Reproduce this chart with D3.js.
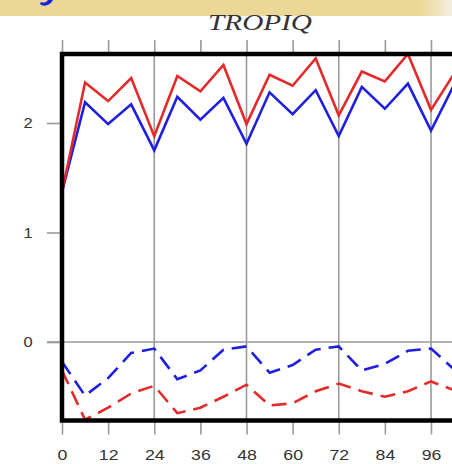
<!DOCTYPE html>
<html>
<head>
<meta charset="utf-8">
<script src="https://cdn.jsdelivr.net/npm/d3@7"></script>
<style>
  html, body { margin: 0; padding: 0; background: #fff; }
  svg { display: block; }
</style>
</head>
<body>
<div id="chart"></div>
<script>
// ---- data ----
const hours = [0, 6, 12, 18, 24, 30, 36, 42, 48, 54, 60, 66, 72, 78, 84, 90, 96, 102];
const redSolid  = [1.37, 2.37, 2.20, 2.41, 1.88, 2.43, 2.29, 2.53, 1.99, 2.44, 2.34, 2.59, 2.07, 2.47, 2.38, 2.63, 2.12, 2.45];
const blueSolid = [1.37, 2.19, 1.99, 2.17, 1.75, 2.24, 2.03, 2.23, 1.81, 2.28, 2.08, 2.30, 1.88, 2.33, 2.13, 2.36, 1.93, 2.35];
const blueDash  = [-0.18, -0.49, -0.33, -0.10, -0.06, -0.34, -0.26, -0.07, -0.04, -0.28, -0.21, -0.07, -0.04, -0.26, -0.20, -0.08, -0.06, -0.25];
const redDash   = [-0.26, -0.71, -0.60, -0.47, -0.40, -0.65, -0.60, -0.50, -0.39, -0.58, -0.56, -0.45, -0.38, -0.45, -0.50, -0.45, -0.36, -0.44];
const xTicks = [0, 12, 24, 36, 48, 60, 72, 84, 96];
const xGrid = [24, 48, 72, 96];
const yTicks = [0, 1, 2];
const title = "TROPIQ";

// ---- layout ----
const W = 452, H = 464;
const svg = d3.select("#chart").append("svg").attr("width", W).attr("height", H);

const plotLeft = 62, plotTop = 54, plotBottom = 420.5;
const x = d3.scaleLinear().domain([0, 96]).range([62, 431]);
const y = d3.scaleLinear().domain([0, 2]).range([342, 123]);
const plotRight = x(110);

// banner (top strip of a slide, cropped)
const defs = svg.append("defs");
const grad = defs.append("linearGradient").attr("id", "bannerGrad").attr("x1", "0").attr("x2", "1").attr("y1", "0").attr("y2", "0");
grad.append("stop").attr("offset", "0.93").attr("stop-color", "#ebd796");
grad.append("stop").attr("offset", "1").attr("stop-color", "#f4efe2");
svg.append("rect").attr("x", 0).attr("y", 0).attr("width", W).attr("height", 16).attr("fill", "url(#bannerGrad)");
// remnant of a cropped blue glyph
svg.append("path").attr("d", "M40,4 C43,7 50,6 53,0 L48,0 C46,3 43,3 41,2 Z").attr("fill", "#1a22e0");

// title
svg.append("text").attr("x", 208).attr("y", 29.5)
  .attr("font-family", "Liberation Serif, Times New Roman, serif").attr("font-style", "italic")
  .attr("font-size", 24).attr("fill", "#333")
  .attr("textLength", 104).attr("lengthAdjust", "spacingAndGlyphs")
  .text(title);

defs.append("clipPath").attr("id", "plotClip").append("rect")
  .attr("x", plotLeft).attr("y", plotTop).attr("width", plotRight - plotLeft).attr("height", plotBottom - plotTop);

const gridColor = "#9a9a9a";

// vertical grid lines
svg.append("g").selectAll("line").data(xGrid).join("line")
  .attr("x1", d => x(d)).attr("x2", d => x(d))
  .attr("y1", plotTop).attr("y2", plotBottom)
  .attr("stroke", gridColor).attr("stroke-width", 1.6);

// zero line
svg.append("line").attr("x1", 47).attr("x2", W).attr("y1", y(0)).attr("y2", y(0))
  .attr("stroke", gridColor).attr("stroke-width", 1.6);

// top axis (ticks only)
const topAxis = svg.append("g").attr("transform", `translate(0,${plotTop - 1})`)
  .call(d3.axisTop(x).tickValues(xTicks).tickSize(13).tickFormat(""));
// bottom axis
const botAxis = svg.append("g").attr("transform", `translate(0,${plotBottom + 1})`)
  .call(d3.axisBottom(x).tickValues(xTicks).tickSize(13).tickPadding(12).tickFormat(d3.format("d")));
// left axis
const leftAxis = svg.append("g").attr("transform", `translate(${plotLeft - 1},0)`)
  .call(d3.axisLeft(y).tickValues(yTicks).tickSize(14).tickPadding(13).tickFormat(d3.format("d")));

[topAxis, botAxis, leftAxis].forEach(g => {
  g.select(".domain").remove();
  g.selectAll(".tick line").attr("stroke", gridColor).attr("stroke-width", 1.6);
  g.selectAll(".tick text").attr("font-family", "Liberation Sans, Arial, sans-serif")
    .attr("font-size", 15).attr("fill", "#333");
});
botAxis.selectAll(".tick text").attr("transform", "scale(1.18,1)").attr("dy", "0.9em");
leftAxis.selectAll(".tick text").attr("text-anchor", "middle").attr("x", -30).attr("transform", "scale(1.1,1)");

// data lines
const pts = vals => hours.map((h, i) => [h, vals[i]]);
const line = d3.line().x(d => x(d[0])).y(d => y(d[1]));
const dataG = svg.append("g").attr("clip-path", "url(#plotClip)");
const series = [
  { v: blueDash, c: "#1f1fe0", dash: "15,8" },
  { v: redDash, c: "#e42a2a", dash: "15,8" },
  { v: blueSolid, c: "#1f1fe0", dash: null },
  { v: redSolid, c: "#e42a2a", dash: null }
];
series.forEach(s => {
  dataG.append("path").datum(pts(s.v)).attr("d", line)
    .attr("fill", "none").attr("stroke", s.c).attr("stroke-width", 2.6)
    .attr("stroke-linejoin", "miter").attr("stroke-dasharray", s.dash);
});

// frame
svg.append("path")
  .attr("d", `M${plotRight},${plotTop} H${plotLeft} V${plotBottom} H${plotRight}`)
  .attr("fill", "none").attr("stroke", "#000").attr("stroke-width", 4.5);
</script>
</body>
</html>
